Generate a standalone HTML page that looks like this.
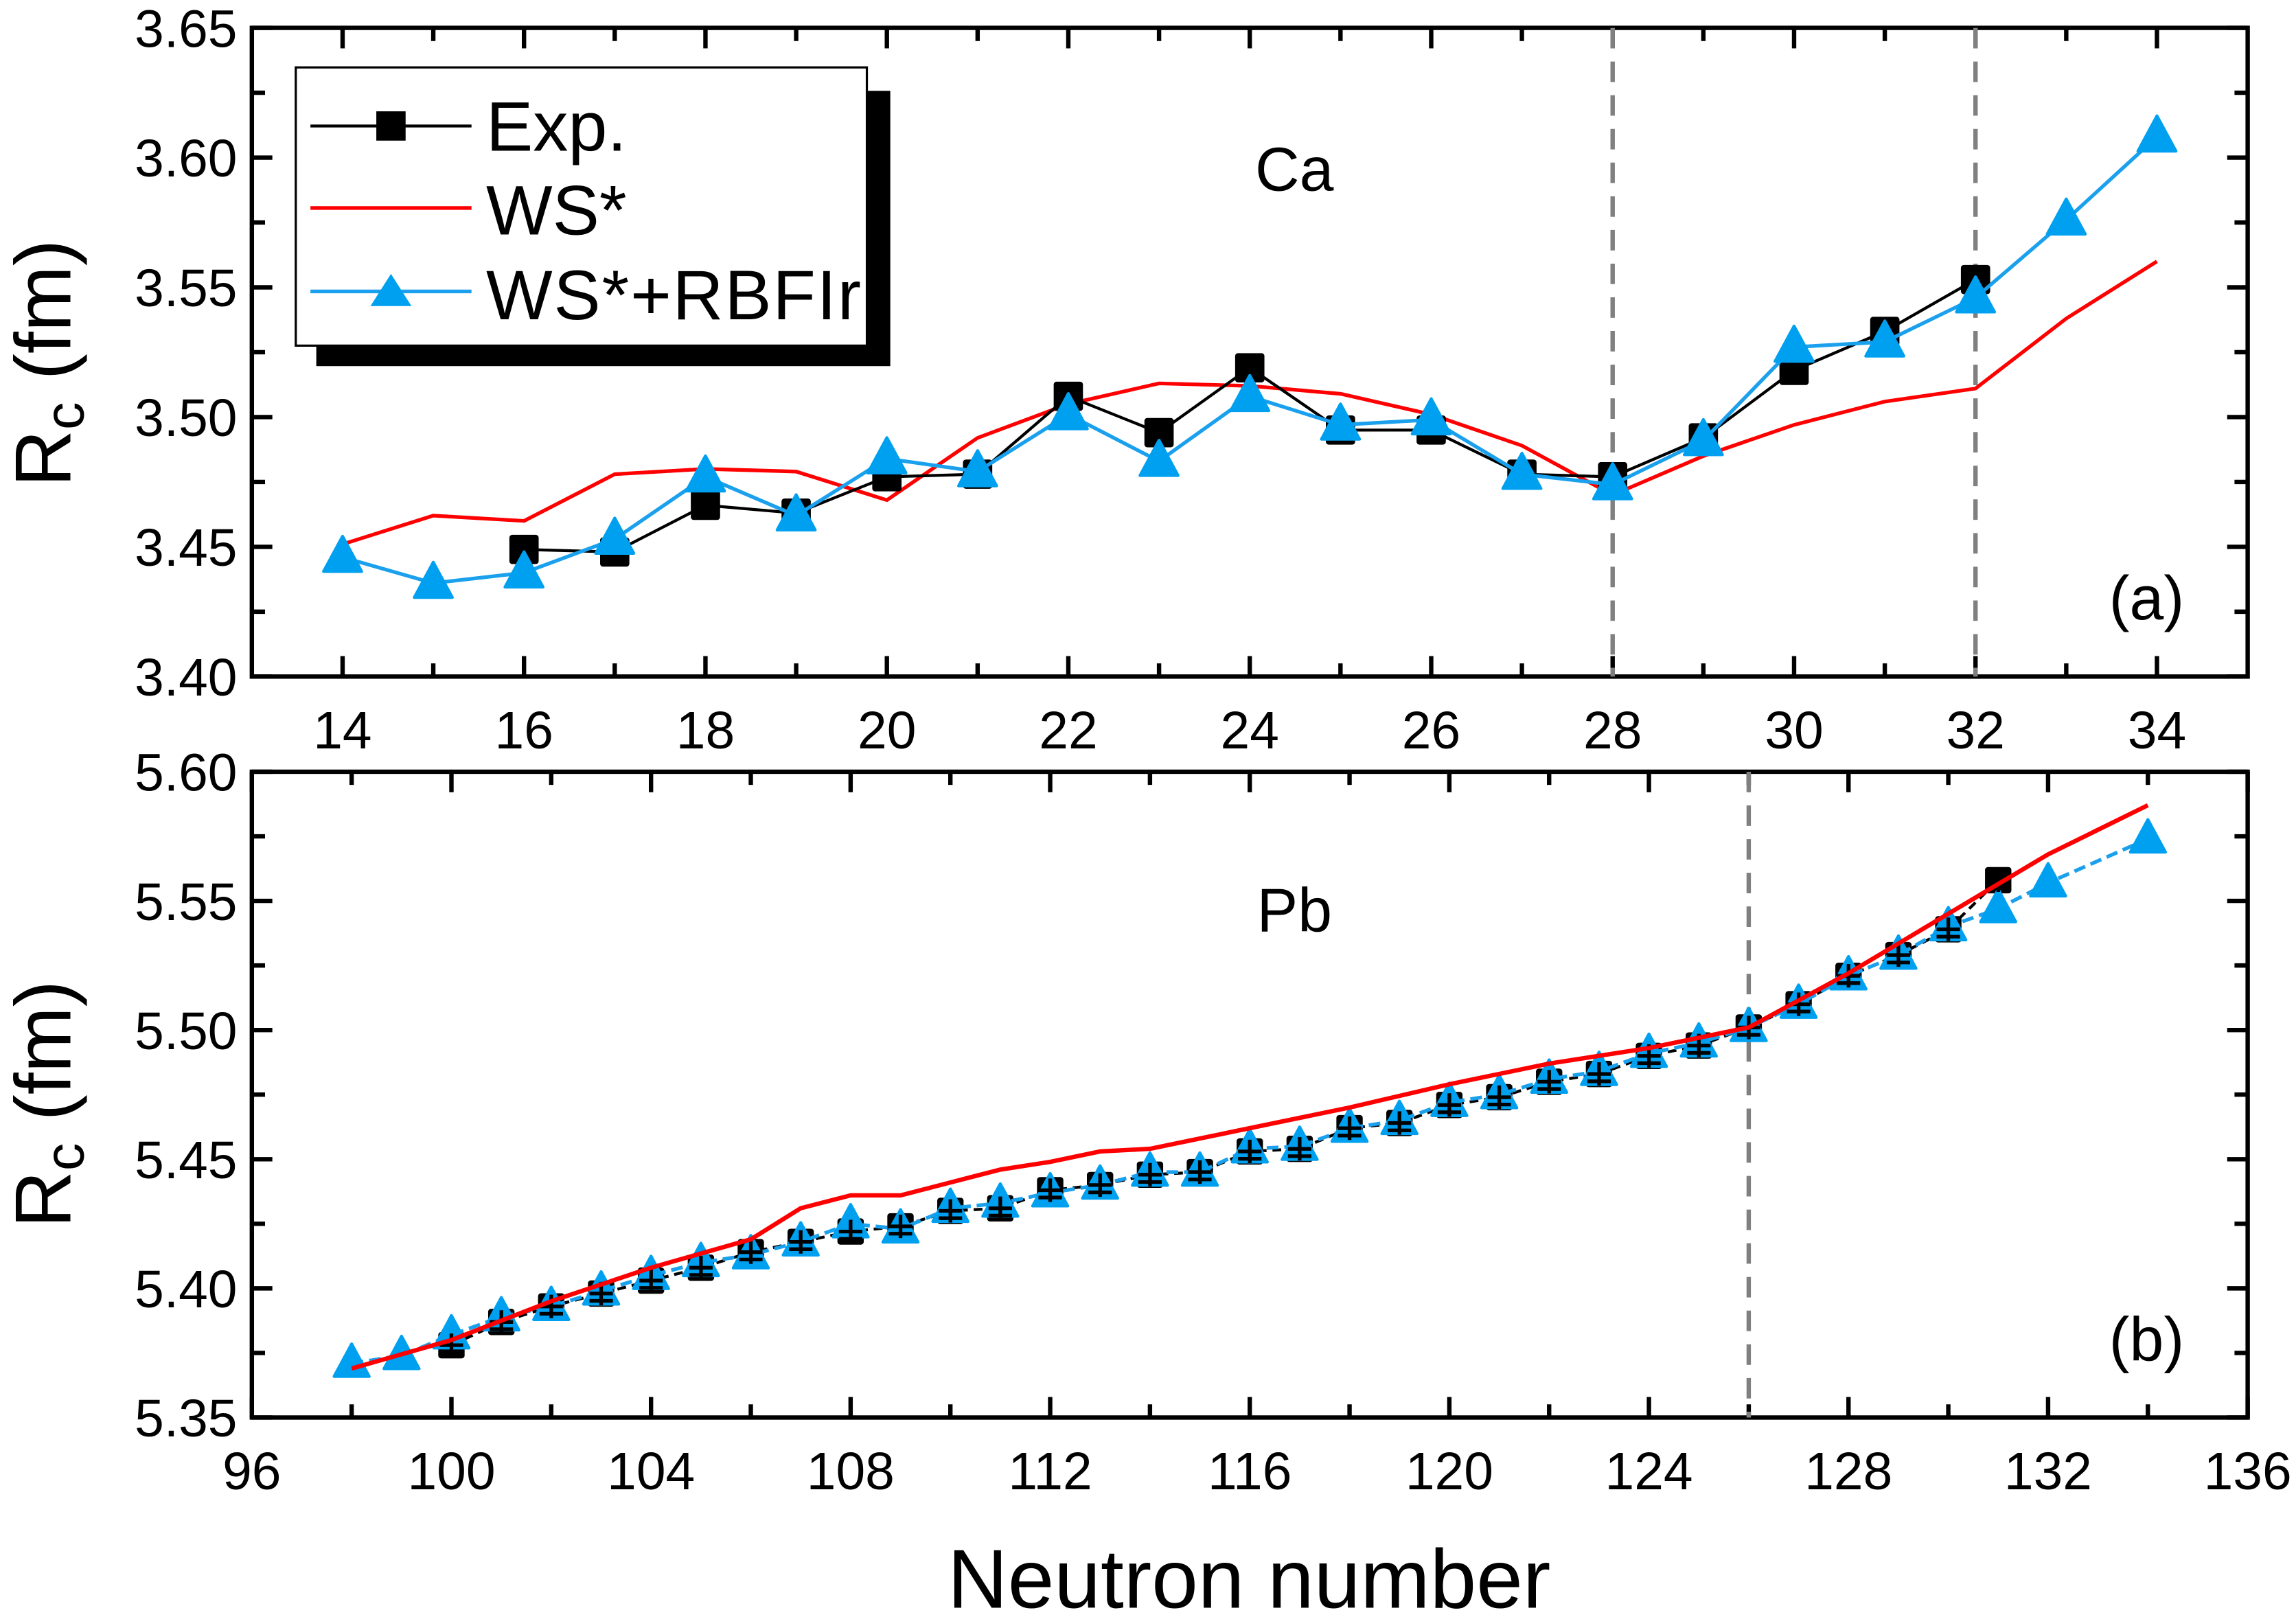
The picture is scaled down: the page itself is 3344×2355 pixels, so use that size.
<!DOCTYPE html>
<html><head><meta charset="utf-8"><style>html,body{margin:0;padding:0;background:#fff}svg{display:block}</style></head>
<body>
<svg id="s" xmlns="http://www.w3.org/2000/svg" width="3344" height="2355" viewBox="0 0 1568 1104.2" font-family="Liberation Sans, Arial, sans-serif"></svg>
<script>
const S=document.getElementById('s');let h='';
function P(o){
 const {x0,x1,y0,y1,px0,px1,py0,py1}=o;
 const X=v=>px0+(v-x0)/(x1-x0)*(px1-px0), Y=v=>py1-(v-y0)/(y1-y0)*(py1-py0);
 o.X=X;o.Y=Y;return o;
}
const A=P({x0:13,x1:35,y0:3.40,y1:3.65,px0:172,px1:1535,py0:19,py1:462});
const B=P({x0:96,x1:136,y0:5.35,y1:5.60,px0:172,px1:1535,py0:527,py1:968});
function axes(p,xt,xm,yt,ym){
 h+=`<rect x="${p.px0}" y="${p.py0}" width="${p.px1-p.px0}" height="${p.py1-p.py0}" fill="none" stroke="#000" stroke-width="3"/>`;
 for(const v of xm){const x=p.X(v);const L=xt.includes(v)?14:9;
  h+=`<line x1="${x}" y1="${p.py1}" x2="${x}" y2="${p.py1-L}" stroke="#000" stroke-width="3"/><line x1="${x}" y1="${p.py0}" x2="${x}" y2="${p.py0+L}" stroke="#000" stroke-width="3"/>`;}
 for(const v of xt){h+=`<text x="${p.X(v)}" y="${p.py1+49}" font-size="36" text-anchor="middle">${v}</text>`;}
 for(const v of ym){const y=p.Y(v);const L=yt.some(t=>Math.abs(t-v)<1e-6)?14:9;
  h+=`<line x1="${p.px0}" y1="${y}" x2="${p.px0+L}" y2="${y}" stroke="#000" stroke-width="3"/><line x1="${p.px1}" y1="${y}" x2="${p.px1-L}" y2="${y}" stroke="#000" stroke-width="3"/>`;}
 for(const v of yt){h+=`<text x="${p.px0-10}" y="${p.Y(v)+13}" font-size="36" text-anchor="end">${v.toFixed(2)}</text>`;}
}
function line(p,xs,ys,col,w,dash){let d=xs.map((x,i)=>(i?'L':'M')+p.X(x).toFixed(1)+' '+p.Y(ys[i]).toFixed(1)).join('');
 h+=`<path d="${d}" fill="none" stroke="${col}" stroke-width="${w}" ${dash?'stroke-dasharray="'+dash+'"':''}/>`;}
function sq(p,xs,ys,s){xs.forEach((x,i)=>{h+=`<rect x="${p.X(x)-s}" y="${p.Y(ys[i])-s}" width="${2*s}" height="${2*s}" fill="#000" rx="2"/>`;});}
function tri(p,xs,ys,s){xs.forEach((x,i)=>{const cx=p.X(x),cy=p.Y(ys[i]);h+=`<polygon points="${cx},${cy-s*1.1} ${cx-s},${cy+s*0.75} ${cx+s},${cy+s*0.75}" fill="#00a0f0" stroke="#00a0f0" stroke-width="2" stroke-linejoin="round"/>`;});}
function vd(p,v){h+=`<line x1="${p.X(v)}" y1="${p.py0}" x2="${p.X(v)}" y2="${p.py1}" stroke="#808080" stroke-width="3" stroke-dasharray="14,9"/>`;}
const rng=(a,b)=>{const r=[];for(let i=a;i<=b;i++)r.push(i);return r;};
axes(A,[14,16,18,20,22,24,26,28,30,32,34],rng(14,34),[3.40,3.45,3.50,3.55,3.60,3.65],[3.40,3.425,3.45,3.475,3.5,3.525,3.55,3.575,3.6,3.625,3.65]);
vd(A,28);vd(A,32);
const ex=rng(16,32),ey=[3.449,3.448,3.466,3.463,3.477,3.478,3.508,3.494,3.519,3.495,3.495,3.478,3.477,3.492,3.518,3.533,3.553];
const wx=rng(14,34),wy=[3.451,3.462,3.460,3.478,3.480,3.479,3.468,3.492,3.505,3.513,3.512,3.509,3.501,3.489,3.470,3.485,3.497,3.506,3.511,3.538,3.560];
const ry=[3.446,3.436,3.440,3.453,3.477,3.462,3.484,3.479,3.501,3.483,3.508,3.497,3.499,3.478,3.474,3.491,3.527,3.529,3.546,3.576,3.608];
line(A,wx,wy,'#f00',2.5);line(A,ex,ey,'#000',2);sq(A,ex,ey,10);line(A,wx,ry,'#1aa0ec',2.5);tri(A,wx,ry,13);
h+=`<text x="884" y="130" font-size="42" text-anchor="middle">Ca</text><text x="1466" y="423" font-size="42" text-anchor="middle">(a)</text>`;
h+=`<rect x="216" y="62" width="392" height="188" fill="#000"/><rect x="202" y="46" width="390" height="190" fill="#fff" stroke="#000" stroke-width="1.5"/>`;
h+=`<line x1="212" y1="86" x2="322" y2="86" stroke="#000" stroke-width="2"/><rect x="257" y="76" width="20" height="20" fill="#000"/><text x="332" y="103" font-size="48">Exp.</text>`;
h+=`<line x1="212" y1="142" x2="322" y2="142" stroke="#f00" stroke-width="2.5"/><text x="332" y="160" font-size="48">WS*</text>`;
h+=`<line x1="212" y1="199" x2="322" y2="199" stroke="#1aa0ec" stroke-width="2.5"/><polygon points="267,187 253,209 281,209" fill="#00a0f0"/><text x="332" y="218" font-size="48" textLength="256">WS*+RBFIr</text>`;
axes(B,[96,100,104,108,112,116,120,124,128,132,136],rng(48,68).map(v=>v*2),[5.35,5.40,5.45,5.50,5.55,5.60],[5.35,5.375,5.4,5.425,5.45,5.475,5.5,5.525,5.55,5.575,5.6]);
vd(B,126);
const bx=rng(100,131),by=[5.378,5.387,5.393,5.398,5.403,5.408,5.414,5.418,5.422,5.424,5.430,5.431,5.438,5.440,5.444,5.445,5.453,5.454,5.462,5.464,5.471,5.474,5.480,5.483,5.490,5.494,5.501,5.510,5.521,5.529,5.539,5.558];
const bwx=[98,100,102,104,106,107,108,109,110,111,112,113,114,116,118,120,122,124,126,128,130,132,134],bwy=[5.369,5.380,5.395,5.408,5.419,5.431,5.436,5.436,5.441,5.446,5.449,5.453,5.454,5.462,5.470,5.479,5.487,5.493,5.501,5.522,5.545,5.568,5.587];
const brx=rng(98,132).concat([134]);const bry=[5.371,5.374].concat([5.382,5.389,5.393,5.399,5.405,5.410,5.413,5.418,5.425,5.423,5.431,5.433,5.437,5.440,5.445,5.445,5.454,5.455,5.462,5.465,5.472,5.475,5.481,5.484,5.491,5.495,5.501,5.510,5.521,5.529,5.540,5.547,5.557,5.574]);
line(B,bx,by,'#000',2,'6,4');sq(B,bx,by,9);line(B,brx,bry,'#1aa0ec',2.5,'8,4');tri(B,brx,bry,12);
bx.forEach((x,i)=>{const cx=B.X(x),cy=B.Y(by[i]);h+=`<path d="M${cx-8} ${cy}H${cx+8}M${cx} ${cy-8}V${cy+8}M${cx-8} ${cy+5}H${cx+8}" stroke="#000" stroke-width="2.5"/>`;});
line(B,bwx,bwy,'#f00',3);
h+=`<text x="884" y="636" font-size="42" text-anchor="middle">Pb</text><text x="1466" y="929" font-size="42" text-anchor="middle">(b)</text>`;
function ylab(cy){h+=`<text transform="translate(48,${cy}) rotate(-90)" font-size="54" text-anchor="middle">R<tspan font-size="38" dy="9">c</tspan><tspan dy="-9"> (fm)</tspan></text>`;}
ylab(248);ylab(754);
h+=`<text x="853" y="1098" font-size="57" text-anchor="middle">Neutron number</text>`;
S.innerHTML=h;
</script>
</body></html>
